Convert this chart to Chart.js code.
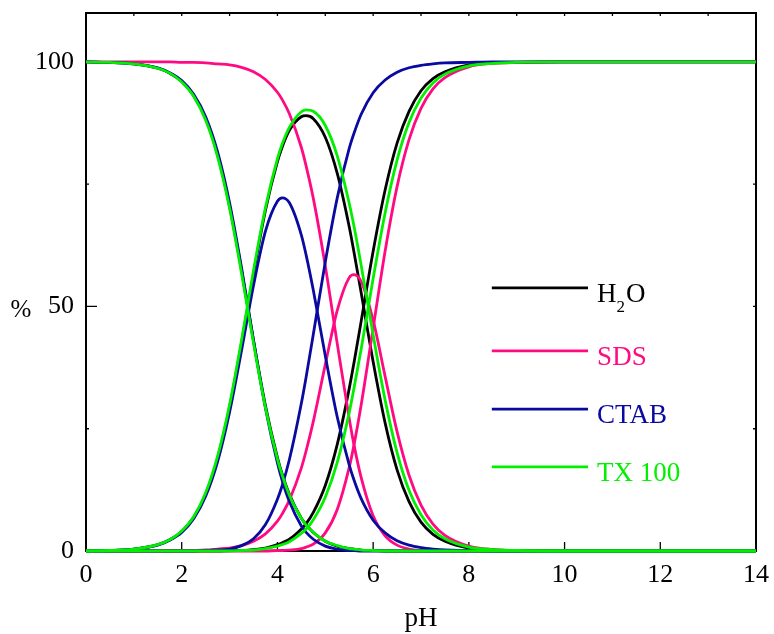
<!DOCTYPE html>
<html>
<head>
<meta charset="utf-8">
<script src="https://cdn.jsdelivr.net/npm/chart.js@4.4.1/dist/chart.umd.min.js"></script>
<style>
  html, body { margin: 0; padding: 0; background: #fff; }
  #wrap { width: 774px; height: 634px; position: relative; }
</style>
</head>
<body>
<div id="wrap"><canvas id="c" width="774" height="634"></canvas></div>
<script>
// pH sampling points
const pH = [0, 0.5, 1, 1.5, 1.75, 2, 2.25, 2.5, 2.75, 3, 3.25, 3.5, 3.75, 4, 4.1, 4.25, 4.5, 4.6, 4.75, 5, 5.25, 5.5, 5.6, 5.75, 6, 6.25, 6.5, 6.75, 7, 7.25, 7.5, 8, 8.5, 9, 10, 12, 14];

// H2O medium
const h2o_H2A = [100, 99.9, 99.6, 98.7, 97.7, 96.0, 93.1, 88.4, 81.0, 70.5, 57.4, 43.0, 29.7, 19.1, 15.7, 11.6, 6.7, 5.4, 3.8, 2.0, 1.0, 0.5, 0.4, 0.2, 0.1, 0, 0, 0, 0, 0, 0, 0, 0, 0, 0, 0, 0];
const h2o_HA  = [0, 0.1, 0.4, 1.3, 2.3, 4.0, 6.9, 11.6, 19.0, 29.4, 42.5, 56.7, 69.7, 79.6, 82.6, 86.0, 88.8, 89.0, 88.4, 84.6, 77.2, 66.3, 61.1, 52.8, 38.7, 26.2, 16.6, 10.1, 5.9, 3.4, 2.0, 0.6, 0.2, 0.1, 0, 0, 0];
const h2o_A   = [0, 0, 0, 0, 0, 0, 0, 0, 0, 0.1, 0.1, 0.3, 0.6, 1.3, 1.7, 2.4, 4.5, 5.6, 7.9, 13.4, 21.8, 33.2, 38.5, 47.0, 61.3, 73.8, 83.4, 89.9, 94.1, 96.6, 98.0, 99.4, 99.8, 99.9, 100, 100, 100];

// SDS medium
const sds_H2A = [100, 100, 100, 100, 100, 99.9, 99.9, 99.8, 99.6, 99.4, 98.9, 98.0, 96.4, 93.8, 92.3, 89.4, 82.5, 78.7, 72.1, 58.3, 42.4, 27.1, 21.7, 15.0, 7.2, 3.1, 1.2, 0.4, 0.1, 0, 0, 0, 0, 0, 0, 0, 0];
const sds_HA  = [0, 0, 0, 0, 0, 0.1, 0.1, 0.2, 0.4, 0.6, 1.1, 2.0, 3.5, 6.1, 7.6, 10.4, 17.0, 20.5, 26.5, 38.1, 49.2, 55.9, 56.5, 55.1, 47.2, 35.7, 24.4, 15.5, 9.4, 5.5, 3.2, 1.0, 0.3, 0.1, 0, 0, 0];
const sds_A   = [0, 0, 0, 0, 0, 0, 0, 0, 0, 0, 0, 0, 0, 0.1, 0.1, 0.2, 0.5, 0.8, 1.4, 3.7, 8.5, 17.1, 21.7, 29.9, 45.6, 61.3, 74.5, 84.1, 90.5, 94.5, 96.8, 99.0, 99.7, 99.9, 100, 100, 100];

// CTAB medium
const ctab_H2A = [100, 99.9, 99.6, 98.8, 97.8, 96.2, 93.4, 88.8, 81.6, 71.2, 57.9, 43.1, 29.2, 18.0, 14.4, 10.1, 5.1, 3.8, 2.4, 1.0, 0.4, 0.1, 0.1, 0, 0, 0, 0, 0, 0, 0, 0, 0, 0, 0, 0, 0, 0];
const ctab_HA  = [0, 0.1, 0.4, 1.2, 2.2, 3.8, 6.6, 11.2, 18.3, 28.4, 41.0, 54.3, 65.4, 71.5, 72.2, 71.2, 64.6, 60.5, 53.3, 39.9, 27.4, 17.6, 14.5, 10.7, 6.3, 3.7, 2.1, 1.2, 0.7, 0.4, 0.2, 0.1, 0, 0, 0, 0, 0];
const ctab_A   = [0, 0, 0, 0, 0, 0, 0, 0.1, 0.2, 0.4, 1.1, 2.5, 5.4, 10.6, 13.4, 18.7, 30.2, 35.6, 44.3, 59.1, 72.2, 82.3, 85.4, 89.3, 93.7, 96.3, 97.9, 98.8, 99.3, 99.6, 99.8, 99.9, 100, 100, 100, 100, 100];

// TX 100 medium
const tx_H2A = [100, 99.9, 99.6, 98.7, 97.7, 95.9, 93.0, 88.1, 80.6, 70.1, 56.8, 42.5, 29.3, 18.8, 15.5, 11.4, 6.7, 5.3, 3.8, 2.0, 1.1, 0.5, 0.4, 0.2, 0.1, 0, 0, 0, 0, 0, 0, 0, 0, 0, 0, 0, 0];
const tx_HA  = [0, 0.1, 0.4, 1.3, 2.3, 4.1, 7.0, 11.9, 19.4, 29.9, 43.1, 57.3, 70.2, 80.2, 83.2, 86.6, 89.8, 90.2, 89.9, 87.0, 80.8, 71.1, 66.4, 58.4, 44.2, 30.9, 20.1, 12.4, 7.4, 4.3, 2.5, 0.8, 0.3, 0.1, 0, 0, 0];
const tx_A   = [0, 0, 0, 0, 0, 0, 0, 0, 0, 0, 0.1, 0.2, 0.5, 1.0, 1.3, 1.9, 3.6, 4.5, 6.4, 11.0, 18.1, 28.3, 33.3, 41.3, 55.7, 69.1, 79.9, 87.6, 92.6, 95.7, 97.5, 99.2, 99.7, 99.9, 100, 100, 100];

// axis ticks
const xTicks = [0, 2, 4, 6, 8, 10, 12, 14];
const xMinorTicks = [1, 3, 5, 7, 9, 11, 13];
const yTicks = [0, 50, 100];
const yMinorTicks = [25, 75];

// legend
const legendLabels = ['H2O', 'SDS', 'CTAB', 'TX 100'];
const legendColors = ['#000000', '#FF0A82', '#0A0AA0', '#00F000'];

const COL = { h2o: '#000000', sds: '#FF0A82', ctab: '#0A0AA0', tx: '#00F000' };
const FONT = "'Liberation Serif', 'Times New Roman', serif";

function pts(arr) { return pH.map((x, i) => ({ x: x, y: arr[i] })); }
function ds(arr, color, order) {
  return {
    data: pts(arr), borderColor: color, backgroundColor: color,
    borderWidth: 2.8, pointRadius: 0, fill: false,
    cubicInterpolationMode: 'monotone', clip: 4, order: order
  };
}

const decor = {
  id: 'decor',
  beforeDatasetsDraw(chart) {
    const ctx = chart.ctx, a = chart.chartArea;
    const xs = chart.scales.x, ys = chart.scales.y;
    ctx.save();
    ctx.strokeStyle = '#000';
    ctx.lineWidth = 2;
    ctx.strokeRect(a.left, a.top, a.right - a.left, a.bottom - a.top);
    ctx.lineWidth = 1.3;
    ctx.beginPath();
    xTicks.forEach(v => {
      const px = xs.getPixelForValue(v);
      ctx.moveTo(px, a.bottom); ctx.lineTo(px, a.bottom - 9);
      ctx.moveTo(px, a.top); ctx.lineTo(px, a.top + 3);
    });
    xMinorTicks.forEach(v => {
      const px = xs.getPixelForValue(v);
      ctx.moveTo(px, a.top); ctx.lineTo(px, a.top + 3);
    });
    yTicks.forEach(v => {
      const py = ys.getPixelForValue(v);
      ctx.moveTo(a.left, py); ctx.lineTo(a.left + 11, py);
      ctx.moveTo(a.right, py); ctx.lineTo(a.right - 3, py);
    });
    yMinorTicks.forEach(v => {
      const py = ys.getPixelForValue(v);
      ctx.moveTo(a.left, py); ctx.lineTo(a.left + 3, py);
      ctx.moveTo(a.right, py); ctx.lineTo(a.right - 3, py);
    });
    ctx.stroke();
    ctx.restore();
  },
  afterDraw(chart) {
    const ctx = chart.ctx, a = chart.chartArea;
    const xs = chart.scales.x, ys = chart.scales.y;
    ctx.save();
    // axis titles
    ctx.fillStyle = '#000';
    ctx.font = '27px ' + FONT;
    ctx.textAlign = 'center';
    ctx.textBaseline = 'middle';
    ctx.fillText('pH', (a.left + a.right) / 2, 619);
    ctx.font = '25px ' + FONT;
    ctx.fillText('%', 21, ys.getPixelForValue(50) + 4);
    // legend
    const x0 = xs.getPixelForValue(8.48), x1 = xs.getPixelForValue(10.49);
    const tx = xs.getPixelForValue(10.68);
    const rows = [53.8, 40.9, 29.0, 17.2];
    legendLabels.forEach((lab, i) => {
      const y = ys.getPixelForValue(rows[i]);
      ctx.strokeStyle = legendColors[i];
      ctx.lineWidth = 2.8;
      ctx.beginPath(); ctx.moveTo(x0, y); ctx.lineTo(x1, y); ctx.stroke();
      ctx.fillStyle = legendColors[i];
      ctx.textAlign = 'left';
      ctx.textBaseline = 'alphabetic';
      const base = y + 14;
      if (lab === 'H2O') {
        ctx.font = '27px ' + FONT;
        ctx.fillText('H', tx, base);
        let w = ctx.measureText('H').width;
        ctx.font = '17px ' + FONT;
        ctx.fillText('2', tx + w, base + 10);
        let w2 = ctx.measureText('2').width;
        ctx.font = '27px ' + FONT;
        ctx.fillText('O', tx + w + w2 + 1, base);
      } else {
        ctx.font = '27px ' + FONT;
        ctx.fillText(lab, tx, base);
      }
    });
    ctx.restore();
  }
};

new Chart(document.getElementById('c'), {
  type: 'line',
  data: {
    datasets: [
      ds(tx_H2A, COL.tx, 0), ds(tx_HA, COL.tx, 0), ds(tx_A, COL.tx, 0),
      ds(ctab_H2A, COL.ctab, 1), ds(ctab_HA, COL.ctab, 1), ds(ctab_A, COL.ctab, 1),
      ds(sds_H2A, COL.sds, 2), ds(sds_HA, COL.sds, 2), ds(sds_A, COL.sds, 2),
      ds(h2o_H2A, COL.h2o, 3), ds(h2o_HA, COL.h2o, 3), ds(h2o_A, COL.h2o, 3)
    ]
  },
  options: {
    responsive: false,
    animation: false,
    devicePixelRatio: 1,
    layout: { padding: { left: 0, right: 18, top: 13, bottom: 0 } },
    plugins: { legend: { display: false }, tooltip: { enabled: false }, title: { display: false } },
    scales: {
      x: {
        type: 'linear', min: 0, max: 14,
        afterFit(s) { s.height = 83; s.paddingLeft = 0; s.paddingRight = 0; },
        afterBuildTicks(s) { s.ticks = xTicks.map(v => ({ value: v })); },
        grid: { display: false, drawTicks: false },
        border: { display: false },
        ticks: { color: '#000', font: { family: FONT, size: 26 }, padding: 9, maxRotation: 0, autoSkip: false }
      },
      y: {
        type: 'linear', min: 0, max: 110,
        afterFit(s) { s.width = 86; s.paddingTop = 0; s.paddingBottom = 0; },
        afterBuildTicks(s) { s.ticks = yTicks.map(v => ({ value: v })); },
        grid: { display: false, drawTicks: false },
        border: { display: false },
        ticks: { color: '#000', font: { family: FONT, size: 26 }, padding: 12 }
      }
    }
  },
  plugins: [decor]
});
</script>
</body>
</html>
